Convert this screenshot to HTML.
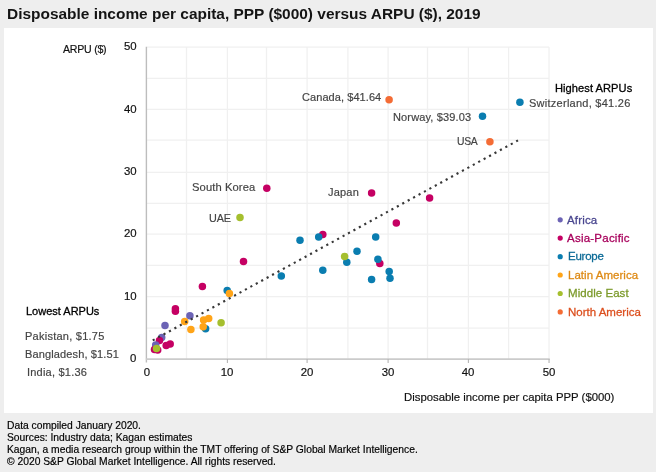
<!DOCTYPE html>
<html><head><meta charset="utf-8"><title>Disposable income per capita vs ARPU</title>
<style>
html,body{margin:0;padding:0;}
body{width:656px;height:472px;background:#eeeeee;position:relative;overflow:hidden;font-family:"Liberation Sans",sans-serif;}
.panel{position:absolute;left:4.2px;top:27.6px;width:648.8px;height:385.2px;background:#fff;}
.t{position:absolute;white-space:nowrap;line-height:1;transform:translateY(-50%);}
.t,.title{-webkit-font-smoothing:antialiased;will-change:transform;}
.t{-webkit-text-stroke:0.18px currentColor;}
.title{position:absolute;left:7.0px;top:5.9px;font-size:15.45px;font-weight:bold;color:#141414;white-space:nowrap;line-height:1;}
svg{position:absolute;left:0;top:0;}
.tk{font-size:11.4px;color:#111;}
.ft{font-size:10.3px;color:#000;}
</style></head><body>
<div class="panel"></div>
<div class="title">Disposable income per capita, PPP ($000) versus ARPU ($), 2019</div>
<svg width="656" height="472" viewBox="0 0 656 472">
<line x1="186.50" y1="47.06" x2="186.50" y2="359.07" stroke="#f0f0f0" stroke-width="1.25"/>
<line x1="146.94" y1="328.00" x2="549.05" y2="328.00" stroke="#f0f0f0" stroke-width="1.25"/>
<line x1="227.40" y1="47.06" x2="227.40" y2="359.07" stroke="#f0f0f0" stroke-width="1.25"/>
<line x1="146.94" y1="296.50" x2="549.05" y2="296.50" stroke="#f0f0f0" stroke-width="1.25"/>
<line x1="266.50" y1="47.06" x2="266.50" y2="359.07" stroke="#f0f0f0" stroke-width="1.25"/>
<line x1="146.94" y1="265.30" x2="549.05" y2="265.30" stroke="#f0f0f0" stroke-width="1.25"/>
<line x1="307.10" y1="47.06" x2="307.10" y2="359.07" stroke="#f0f0f0" stroke-width="1.25"/>
<line x1="146.94" y1="234.10" x2="549.05" y2="234.10" stroke="#f0f0f0" stroke-width="1.25"/>
<line x1="347.90" y1="47.06" x2="347.90" y2="359.07" stroke="#f0f0f0" stroke-width="1.25"/>
<line x1="146.94" y1="203.40" x2="549.05" y2="203.40" stroke="#f0f0f0" stroke-width="1.25"/>
<line x1="388.10" y1="47.06" x2="388.10" y2="359.07" stroke="#f0f0f0" stroke-width="1.25"/>
<line x1="146.94" y1="172.30" x2="549.05" y2="172.30" stroke="#f0f0f0" stroke-width="1.25"/>
<line x1="427.50" y1="47.06" x2="427.50" y2="359.07" stroke="#f0f0f0" stroke-width="1.25"/>
<line x1="146.94" y1="140.20" x2="549.05" y2="140.20" stroke="#f0f0f0" stroke-width="1.25"/>
<line x1="468.40" y1="47.06" x2="468.40" y2="359.07" stroke="#f0f0f0" stroke-width="1.25"/>
<line x1="146.94" y1="109.46" x2="549.05" y2="109.46" stroke="#f0f0f0" stroke-width="1.25"/>
<line x1="508.60" y1="47.06" x2="508.60" y2="359.07" stroke="#f0f0f0" stroke-width="1.25"/>
<line x1="146.94" y1="78.26" x2="549.05" y2="78.26" stroke="#f0f0f0" stroke-width="1.25"/>
<line x1="549.05" y1="47.06" x2="549.05" y2="359.07" stroke="#f0f0f0" stroke-width="1.25"/>
<line x1="146.94" y1="47.06" x2="549.05" y2="47.06" stroke="#f0f0f0" stroke-width="1.25"/>
<line x1="146.4" y1="46.86" x2="146.4" y2="362.57" stroke="#bdbdbd" stroke-width="1.4"/>
<line x1="145.9" y1="359.07" x2="549.75" y2="359.07" stroke="#cbcbcb" stroke-width="1.7"/>
<line x1="227.40" y1="359.07" x2="227.40" y2="363.07" stroke="#b4b4b4" stroke-width="1.1"/>
<line x1="307.10" y1="359.07" x2="307.10" y2="363.07" stroke="#b4b4b4" stroke-width="1.1"/>
<line x1="388.10" y1="359.07" x2="388.10" y2="363.07" stroke="#b4b4b4" stroke-width="1.1"/>
<line x1="468.40" y1="359.07" x2="468.40" y2="363.07" stroke="#b4b4b4" stroke-width="1.1"/>
<line x1="549.05" y1="359.07" x2="549.05" y2="363.07" stroke="#b4b4b4" stroke-width="1.1"/>
<circle cx="389.1" cy="99.7" r="3.75" fill="#F46C35"/>
<circle cx="519.9" cy="102.2" r="3.75" fill="#0A7DB0"/>
<circle cx="482.5" cy="116.2" r="3.75" fill="#0A7DB0"/>
<circle cx="489.9" cy="141.7" r="3.75" fill="#F46C35"/>
<circle cx="266.8" cy="188.3" r="3.75" fill="#C50063"/>
<circle cx="371.6" cy="193.1" r="3.75" fill="#C50063"/>
<circle cx="240.0" cy="217.4" r="3.75" fill="#A5BF2E"/>
<circle cx="429.6" cy="198.1" r="3.75" fill="#C50063"/>
<circle cx="396.3" cy="223.1" r="3.75" fill="#C50063"/>
<circle cx="322.8" cy="234.4" r="3.75" fill="#C50063"/>
<circle cx="318.7" cy="236.9" r="3.75" fill="#0A7DB0"/>
<circle cx="300.0" cy="240.2" r="3.75" fill="#0A7DB0"/>
<circle cx="375.7" cy="236.9" r="3.75" fill="#0A7DB0"/>
<circle cx="357.0" cy="251.2" r="3.75" fill="#0A7DB0"/>
<circle cx="346.8" cy="262.2" r="3.75" fill="#0A7DB0"/>
<circle cx="344.6" cy="256.4" r="3.75" fill="#A5BF2E"/>
<circle cx="379.8" cy="263.6" r="3.75" fill="#C50063"/>
<circle cx="377.9" cy="259.2" r="3.75" fill="#0A7DB0"/>
<circle cx="322.8" cy="270.2" r="3.75" fill="#0A7DB0"/>
<circle cx="281.3" cy="276.0" r="3.75" fill="#0A7DB0"/>
<circle cx="389.2" cy="271.6" r="3.75" fill="#0A7DB0"/>
<circle cx="390.0" cy="278.2" r="3.75" fill="#0A7DB0"/>
<circle cx="371.6" cy="279.5" r="3.75" fill="#0A7DB0"/>
<circle cx="243.5" cy="261.5" r="3.75" fill="#C50063"/>
<circle cx="202.4" cy="286.5" r="3.75" fill="#C50063"/>
<circle cx="227.2" cy="290.5" r="3.75" fill="#0A7DB0"/>
<circle cx="229.4" cy="293.6" r="3.75" fill="#FFA418"/>
<circle cx="175.4" cy="308.7" r="3.75" fill="#C50063"/>
<circle cx="175.4" cy="311.3" r="3.75" fill="#C50063"/>
<circle cx="189.9" cy="315.7" r="3.75" fill="#6C63B5"/>
<circle cx="184.7" cy="321.5" r="3.75" fill="#FFA418"/>
<circle cx="203.6" cy="320.0" r="3.75" fill="#FFA418"/>
<circle cx="208.7" cy="318.5" r="3.75" fill="#FFA418"/>
<circle cx="221.1" cy="322.8" r="3.75" fill="#A5BF2E"/>
<circle cx="165.0" cy="325.4" r="3.75" fill="#6C63B5"/>
<circle cx="190.9" cy="329.6" r="3.75" fill="#FFA418"/>
<circle cx="205.6" cy="328.8" r="3.75" fill="#0A7DB0"/>
<circle cx="203.2" cy="326.8" r="3.75" fill="#FFA418"/>
<circle cx="161.7" cy="337.4" r="3.75" fill="#6C63B5"/>
<circle cx="159.5" cy="340.5" r="3.75" fill="#C50063"/>
<circle cx="166.2" cy="345.5" r="3.75" fill="#C50063"/>
<circle cx="170.2" cy="343.9" r="3.75" fill="#C50063"/>
<circle cx="155.7" cy="344.9" r="3.75" fill="#6C63B5"/>
<circle cx="154.5" cy="349.5" r="3.75" fill="#C50063"/>
<circle cx="157.7" cy="350.1" r="3.75" fill="#C50063"/>
<circle cx="156.5" cy="348.5" r="3.75" fill="#A5BF2E"/>
<line x1="152.72" y1="340.38" x2="517.98" y2="140.42" stroke="#383838" stroke-width="2.15" stroke-dasharray="2.15 4.035"/>
<circle cx="560.2" cy="219.8" r="2.6" fill="#6C63B5"/>
<circle cx="560.2" cy="238.1" r="2.6" fill="#C50063"/>
<circle cx="560.2" cy="256.7" r="2.6" fill="#0A7DB0"/>
<circle cx="560.2" cy="275.0" r="2.6" fill="#FFA418"/>
<circle cx="560.2" cy="293.5" r="2.6" fill="#A5BF2E"/>
<circle cx="560.2" cy="311.9" r="2.6" fill="#F46C35"/>
</svg>
<div class="t" style="left:63.0px;top:48.8px;font-size:10.6px;color:#111;letter-spacing:-0.25px">ARPU ($)</div>
<div class="t" style="left:555.3px;top:88.7px;font-size:11.1px;color:#000;letter-spacing:0.06px;-webkit-text-stroke:0.3px #000">Highest ARPUs</div>
<div class="t" style="left:529.0px;top:103.4px;font-size:11.0px;color:#444;letter-spacing:0.26px">Switzerland, $41.26</div>
<div class="t" style="left:392.7px;top:117.4px;font-size:11.0px;color:#444;letter-spacing:0.15px">Norway, $39.03</div>
<div class="t" style="left:302.0px;top:97.15px;font-size:11.0px;color:#444;letter-spacing:0.07px">Canada, $41.64</div>
<div class="t" style="left:456.7px;top:141.6px;font-size:10.4px;color:#444;letter-spacing:-0.35px">USA</div>
<div class="t" style="left:192.0px;top:187.6px;font-size:11.2px;color:#444;letter-spacing:0.1px">South Korea</div>
<div class="t" style="left:327.8px;top:192.3px;font-size:11.0px;color:#444;letter-spacing:0.2px">Japan</div>
<div class="t" style="left:209.0px;top:218.0px;font-size:10.8px;color:#444;letter-spacing:-0.1px">UAE</div>
<div class="t" style="left:26.0px;top:310.7px;font-size:11.0px;color:#000;letter-spacing:0px;-webkit-text-stroke:0.3px #000">Lowest ARPUs</div>
<div class="t" style="left:25.3px;top:335.6px;font-size:11.0px;color:#444;letter-spacing:0.25px">Pakistan, $1.75</div>
<div class="t" style="left:25.0px;top:354.1px;font-size:11.0px;color:#444;letter-spacing:0.13px">Bangladesh, $1.51</div>
<div class="t" style="left:27.3px;top:372.0px;font-size:11.0px;color:#444;letter-spacing:0.22px">India, $1.36</div>
<div class="t" style="left:404.0px;top:397.5px;font-size:11.35px;color:#111;letter-spacing:0px">Disposable income per capita PPP ($000)</div>
<div class="t tk" style="right:519.5px;top:359.2px">0</div>
<div class="t tk" style="left:146.9px;top:372.5px;transform:translate(-50%,-50%)">0</div>
<div class="t tk" style="right:519.5px;top:297.1px">10</div>
<div class="t tk" style="left:227.4px;top:372.5px;transform:translate(-50%,-50%)">10</div>
<div class="t tk" style="right:519.5px;top:233.5px">20</div>
<div class="t tk" style="left:307.1px;top:372.5px;transform:translate(-50%,-50%)">20</div>
<div class="t tk" style="right:519.5px;top:172.1px">30</div>
<div class="t tk" style="left:388.1px;top:372.5px;transform:translate(-50%,-50%)">30</div>
<div class="t tk" style="right:519.5px;top:109.5px">40</div>
<div class="t tk" style="left:468.4px;top:372.5px;transform:translate(-50%,-50%)">40</div>
<div class="t tk" style="right:519.5px;top:46.5px">50</div>
<div class="t tk" style="left:549.0px;top:372.5px;transform:translate(-50%,-50%)">50</div>
<div class="t" style="left:567.0px;top:220.70000000000002px;font-size:11.5px;letter-spacing:0.17px;color:#49468F;-webkit-text-stroke:0.28px #49468F">Africa</div>
<div class="t" style="left:567.0px;top:239.0px;font-size:11.5px;letter-spacing:0.23px;color:#A8005C;-webkit-text-stroke:0.28px #A8005C">Asia-Pacific</div>
<div class="t" style="left:568.0px;top:257.2px;font-size:11.5px;letter-spacing:-0.25px;color:#0B6A96;-webkit-text-stroke:0.28px #0B6A96">Europe</div>
<div class="t" style="left:568.0px;top:275.9px;font-size:11.5px;letter-spacing:0.04px;color:#DE8A14;-webkit-text-stroke:0.28px #DE8A14">Latin America</div>
<div class="t" style="left:568.0px;top:294.4px;font-size:11.5px;letter-spacing:0.05px;color:#7C9A2B;-webkit-text-stroke:0.28px #7C9A2B">Middle East</div>
<div class="t" style="left:568.0px;top:312.79999999999995px;font-size:11.5px;letter-spacing:0px;color:#DC4F1E;-webkit-text-stroke:0.28px #DC4F1E">North America</div>
<div class="t ft" style="left:7.0px;top:425.8px">Data compiled January 2020.</div>
<div class="t ft" style="left:7.0px;top:437.8px">Sources: Industry data; Kagan estimates</div>
<div class="t ft" style="left:7.0px;top:449.8px">Kagan, a media research group within the TMT offering of S&amp;P Global Market Intelligence.</div>
<div class="t ft" style="left:7.0px;top:461.6px">© 2020 S&amp;P Global Market Intelligence. All rights reserved.</div>
</body></html>
